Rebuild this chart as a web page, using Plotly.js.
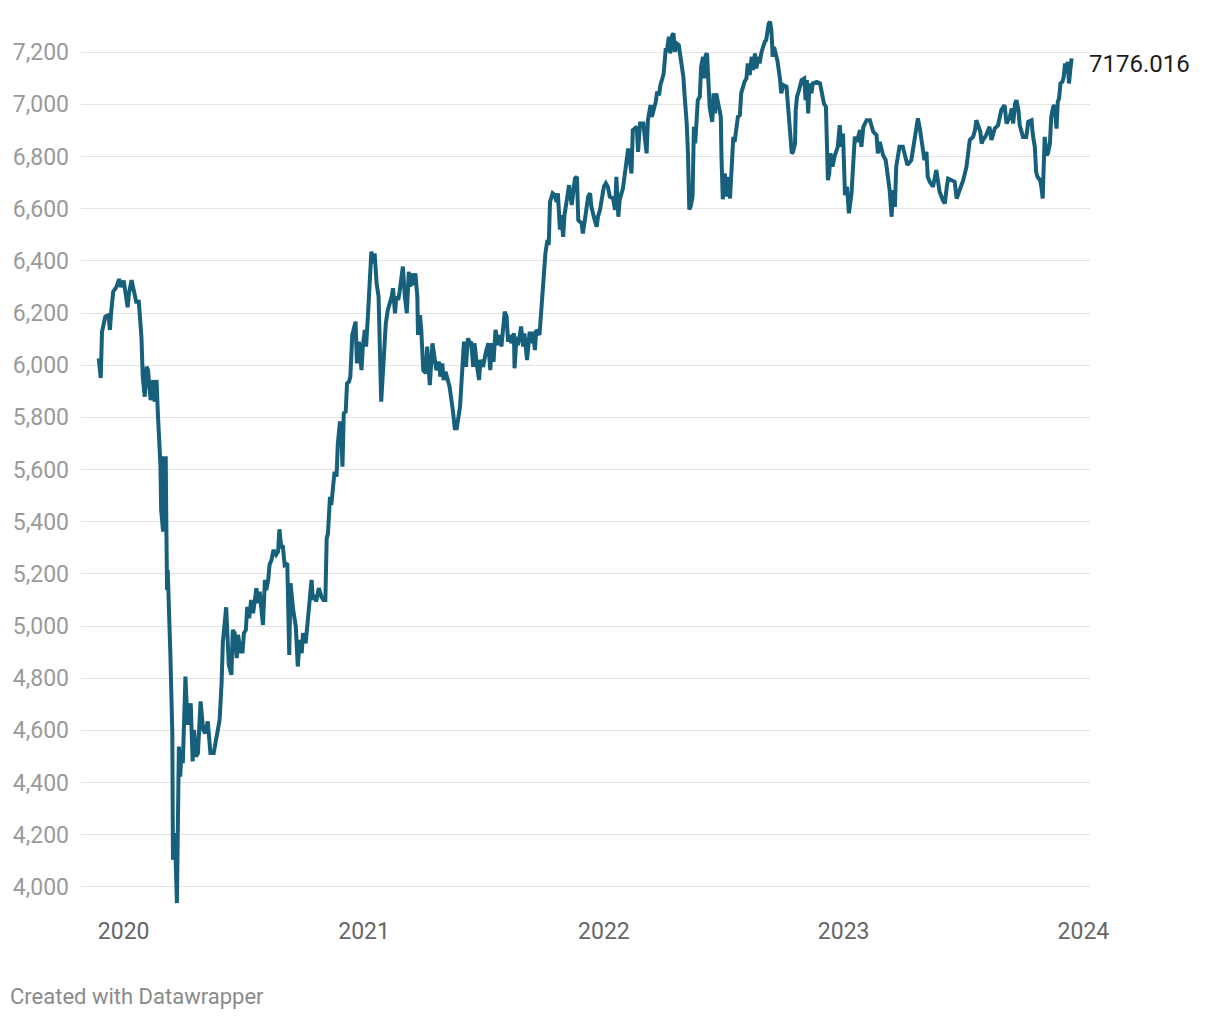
<!DOCTYPE html>
<html>
<head>
<meta charset="utf-8">
<script src="https://cdn.plot.ly/plotly-3.0.1.min.js"></script>
<style>
  html, body { margin: 0; padding: 0; background: #ffffff; }
  #chart { width: 1220px; height: 1020px; }
</style>
</head>
<body>
<div id="chart"></div>
<script>
// ---- Data ----
const dates = [
  "2019-11-24","2019-11-27","2019-11-29","2019-12-04","2019-12-09","2019-12-11","2019-12-13","2019-12-16","2019-12-21","2019-12-25","2019-12-28",
  "2020-01-01","2020-01-07","2020-01-09","2020-01-13","2020-01-18","2020-01-20","2020-01-24","2020-01-28","2020-01-30",
  "2020-02-02","2020-02-05","2020-02-07","2020-02-11","2020-02-15","2020-02-17","2020-02-20","2020-02-22","2020-02-26","2020-02-27",
  "2020-03-01","2020-03-02","2020-03-05","2020-03-06","2020-03-07","2020-03-08","2020-03-12","2020-03-15","2020-03-16","2020-03-19",
  "2020-03-22","2020-03-24","2020-03-25","2020-03-27","2020-03-29","2020-03-31","2020-04-04","2020-04-07","2020-04-09","2020-04-12",
  "2020-04-15","2020-04-17","2020-04-20","2020-04-23","2020-04-27","2020-05-01","2020-05-04","2020-05-08","2020-05-12","2020-05-17",
  "2020-05-22","2020-05-26","2020-05-29","2020-05-31","2020-06-05","2020-06-09","2020-06-13","2020-06-15","2020-06-18","2020-06-21",
  "2020-06-23","2020-06-27","2020-06-30","2020-07-02","2020-07-05","2020-07-07","2020-07-10","2020-07-13","2020-07-16","2020-07-18",
  "2020-07-21","2020-07-24","2020-07-26","2020-07-31","2020-08-03","2020-08-05","2020-08-08","2020-08-10","2020-08-13","2020-08-16",
  "2020-08-20","2020-08-23","2020-08-25","2020-08-28","2020-08-30","2020-09-02","2020-09-06","2020-09-09","2020-09-11","2020-09-15",
  "2020-09-19","2020-09-22","2020-09-25","2020-09-28","2020-09-30","2020-10-04","2020-10-08","2020-10-10","2020-10-13","2020-10-15",
  "2020-10-18","2020-10-20","2020-10-24","2020-10-28","2020-10-31","2020-11-03","2020-11-05","2020-11-07","2020-11-10","2020-11-12",
  "2020-11-17","2020-11-20","2020-11-22","2020-11-25","2020-11-27","2020-11-29","2020-12-01","2020-12-04","2020-12-06","2020-12-09",
  "2020-12-11","2020-12-14","2020-12-19","2020-12-21","2020-12-24","2020-12-28","2020-12-30","2021-01-02","2021-01-04","2021-01-07",
  "2021-01-10","2021-01-12","2021-01-15","2021-01-17","2021-01-20","2021-01-23","2021-01-27","2021-01-31","2021-02-03","2021-02-06",
  "2021-02-12","2021-02-14","2021-02-17","2021-02-19","2021-02-22","2021-02-24","2021-02-27","2021-03-01","2021-03-04","2021-03-07",
  "2021-03-10","2021-03-12","2021-03-15","2021-03-17","2021-03-20","2021-03-23","2021-03-24","2021-03-27","2021-03-29","2021-04-01",
  "2021-04-05","2021-04-07","2021-04-11","2021-04-15","2021-04-18","2021-04-21","2021-04-25","2021-04-27","2021-04-30","2021-05-02",
  "2021-05-05","2021-05-09","2021-05-11","2021-05-16","2021-05-19","2021-05-22","2021-05-27","2021-05-31","2021-06-02","2021-06-05",
  "2021-06-08","2021-06-11","2021-06-13","2021-06-16","2021-06-18","2021-06-22","2021-06-25","2021-06-27","2021-07-01","2021-07-05",
  "2021-07-09","2021-07-12","2021-07-15","2021-07-17","2021-07-20","2021-07-24","2021-07-27","2021-07-29","2021-07-31","2021-08-03",
  "2021-08-06","2021-08-08","2021-08-11","2021-08-13","2021-08-17","2021-08-18","2021-08-21","2021-08-23","2021-08-26","2021-08-28",
  "2021-08-31","2021-09-02","2021-09-06","2021-09-10","2021-09-13","2021-09-15","2021-09-18","2021-09-20","2021-09-25","2021-09-28",
  "2021-09-30","2021-10-02","2021-10-04","2021-10-07","2021-10-09","2021-10-11","2021-10-15","2021-10-18","2021-10-21","2021-10-23",
  "2021-10-26","2021-10-28","2021-10-31","2021-11-02","2021-11-06","2021-11-09","2021-11-13","2021-11-15","2021-11-18","2021-11-21",
  "2021-11-23","2021-11-28","2021-11-30","2021-12-03","2021-12-08","2021-12-11","2021-12-13","2021-12-18","2021-12-21","2021-12-23",
  "2021-12-26","2022-01-01","2022-01-04","2022-01-07","2022-01-10","2022-01-15","2022-01-18","2022-01-20","2022-01-23","2022-01-25",
  "2022-01-30","2022-02-02","2022-02-04","2022-02-07","2022-02-12","2022-02-14","2022-02-20","2022-02-22","2022-02-25","2022-03-02",
  "2022-03-07","2022-03-09","2022-03-13","2022-03-15","2022-03-21","2022-03-23","2022-03-26","2022-03-28","2022-03-31","2022-04-02",
  "2022-04-05","2022-04-07","2022-04-10","2022-04-12","2022-04-15","2022-04-17","2022-04-19","2022-04-22","2022-04-25","2022-04-29",
  "2022-05-02","2022-05-04","2022-05-07","2022-05-09","2022-05-11","2022-05-13","2022-05-16","2022-05-18","2022-05-20","2022-05-24",
  "2022-05-27","2022-05-29","2022-06-01","2022-06-03","2022-06-05","2022-06-07","2022-06-09","2022-06-11","2022-06-15","2022-06-17",
  "2022-06-19","2022-06-21","2022-06-26","2022-06-28","2022-06-29","2022-07-01","2022-07-04","2022-07-07","2022-07-09","2022-07-12",
  "2022-07-17","2022-07-19","2022-07-24","2022-07-27","2022-07-29","2022-08-01","2022-08-03","2022-08-06","2022-08-08","2022-08-11",
  "2022-08-14","2022-08-16","2022-08-19","2022-08-21","2022-08-24","2022-08-26","2022-08-29","2022-09-03","2022-09-05","2022-09-09",
  "2022-09-11","2022-09-13","2022-09-15","2022-09-17","2022-09-22","2022-09-26","2022-09-28","2022-10-01","2022-10-06","2022-10-08",
  "2022-10-11","2022-10-14","2022-10-16","2022-10-19","2022-10-20","2022-10-22","2022-10-25","2022-10-29","2022-11-02","2022-11-04",
  "2022-11-06","2022-11-08","2022-11-10","2022-11-13","2022-11-15","2022-11-21","2022-11-26","2022-11-30","2022-12-02","2022-12-05",
  "2022-12-07","2022-12-08","2022-12-10","2022-12-12","2022-12-15","2022-12-18","2022-12-23","2022-12-26","2022-12-29","2022-12-31",
  "2023-01-03","2023-01-06","2023-01-09","2023-01-13","2023-01-15","2023-01-18","2023-01-21","2023-01-26","2023-01-28","2023-01-31",
  "2023-02-05","2023-02-10","2023-02-15","2023-02-20","2023-02-22","2023-02-25","2023-03-02","2023-03-06","2023-03-12","2023-03-15",
  "2023-03-17","2023-03-20","2023-03-22","2023-03-27","2023-04-01","2023-04-06","2023-04-08","2023-04-14","2023-04-19","2023-04-22",
  "2023-04-24","2023-04-27","2023-04-29","2023-05-02","2023-05-04","2023-05-07","2023-05-09","2023-05-12","2023-05-17","2023-05-22",
  "2023-05-25","2023-05-27","2023-06-01","2023-06-04","2023-06-07","2023-06-09","2023-06-14","2023-06-19","2023-06-22","2023-06-29",
  "2023-07-02","2023-07-07","2023-07-09","2023-07-12","2023-07-17","2023-07-20","2023-07-22","2023-07-26","2023-07-28","2023-07-30",
  "2023-08-01","2023-08-06","2023-08-11","2023-08-14","2023-08-19","2023-08-24","2023-08-27","2023-08-29","2023-09-01","2023-09-03",
  "2023-09-06","2023-09-11","2023-09-14","2023-09-16","2023-09-19","2023-09-21","2023-09-24","2023-09-26","2023-10-01","2023-10-06",
  "2023-10-09","2023-10-14","2023-10-16","2023-10-19","2023-10-21","2023-10-23","2023-10-27","2023-10-29","2023-10-31","2023-11-02",
  "2023-11-03","2023-11-06","2023-11-08","2023-11-11","2023-11-13","2023-11-16","2023-11-18","2023-11-21","2023-11-23","2023-11-25",
  "2023-11-27","2023-11-30","2023-12-02","2023-12-04","2023-12-06","2023-12-08","2023-12-10","2023-12-12","2023-12-14"
];
const values = [
  6026,5951,6128,6186,6192,6135,6205,6282,6300,6330,6300,
  6324,6222,6275,6326,6275,6243,6243,6109,5956,
  5879,5994,5981,5866,5943,5860,5943,5816,5611,5445,
  5362,5643,5643,5368,5138,5215,4896,4589,4104,4206,
  3938,4207,4538,4423,4525,4474,4806,4628,4628,4704,
  4481,4602,4500,4513,4711,4602,4589,4634,4513,4513,
  4576,4640,4781,4940,5072,4851,4813,4985,4973,4877,
  4966,4902,4902,4973,4985,5074,5030,5100,5049,5100,
  5145,5087,5132,5004,5177,5138,5177,5234,5253,5292,
  5273,5285,5371,5298,5311,5234,5241,4889,5164,5062,
  4998,4845,4947,4896,4973,4934,5036,5113,5177,5100,
  5119,5094,5145,5113,5100,5100,5336,5356,5495,5464,
  5592,5573,5700,5777,5777,5611,5815,5822,5930,5937,
  5956,6116,6167,6007,6090,5981,6071,6135,6071,6199,
  6365,6435,6390,6429,6314,6263,5860,6058,6160,6211,
  6263,6295,6199,6263,6250,6282,6339,6378,6263,6199,
  6358,6301,6352,6307,6352,6263,6116,6192,6135,5981,
  5969,6071,5924,6084,6032,5981,6013,5956,6007,5943,
  5975,5930,5918,5828,5758,5758,5841,6007,6090,5994,
  6103,6084,6090,5994,6084,5994,5943,6020,5994,6045,
  6084,5981,6084,6013,6135,6077,6116,6071,6122,6205,
  6186,6090,6116,6084,6122,5988,6109,6077,6116,6148,
  6071,6122,6020,6128,6084,6128,6058,6135,6116,6224,
  6282,6346,6430,6480,6461,6626,6659,6652,6626,6659,
  6520,6575,6492,6575,6630,6690,6614,6646,6716,6722,
  6556,6544,6505,6556,6646,6659,6607,6556,6531,6569,
  6595,6684,6697,6684,6646,6639,6595,6722,6569,6633,
  6678,6735,6786,6831,6735,6901,6914,6818,6926,6926,
  6812,6939,6997,6952,7010,7048,7035,7074,7099,7118,
  7208,7208,7259,7195,7265,7272,7201,7233,7227,7169,
  7105,7029,6930,6812,6597,6607,6646,6914,6850,7016,
  7029,7144,7182,7099,7188,7195,7054,6990,6933,7042,
  6965,7042,6978,6952,6799,6636,6735,6646,6722,6639,
  6875,6856,6952,6959,7042,7080,7086,7099,7157,7112,
  7182,7131,7195,7138,7182,7157,7201,7240,7246,7310,
  7316,7284,7182,7220,7169,7099,7042,7074,7067,7003,
  6926,6812,6818,6850,6978,7029,7054,7093,7099,7016,
  7093,6965,7080,7042,7080,7086,7080,7029,7003,6990,
  6824,6709,6735,6812,6761,6799,6837,6920,6837,6888,
  6652,6684,6582,6659,6748,6876,6856,6901,6837,6914,
  6939,6939,6895,6882,6812,6856,6805,6786,6671,6569,
  6671,6607,6761,6837,6837,6773,6767,6786,6863,6907,
  6946,6907,6876,6837,6786,6818,6722,6703,6684,6748,
  6697,6665,6633,6620,6684,6715,6709,6703,6639,6684,
  6709,6761,6805,6863,6875,6901,6939,6914,6895,6850,
  6863,6882,6914,6863,6907,6920,6952,6978,6990,6997,
  6926,6952,6984,6926,7003,7016,6978,6920,6875,6875,
  6933,6939,6882,6837,6741,6722,6709,6684,6639,6799,
  6875,6805,6812,6850,6952,6990,6997,6907,7010,7023,
  7080,7086,7105,7157,7118,7163,7080,7131,7176.016
];
const yTicks = [4000,4200,4400,4600,4800,5000,5200,5400,5600,5800,6000,6200,6400,6600,6800,7000,7200];
const xTickDates = ["2020-01-01","2021-01-01","2022-01-01","2023-01-01","2024-01-01"];
const xTickLabels = ["2020","2021","2022","2023","2024"];
const creditText = "Created with Datawrapper";

// ---- Chart ----
const lastIdx = values.length - 1;
const trace = {
  x: dates,
  y: values,
  type: "scatter",
  mode: "lines",
  line: { color: "#17607b", width: 4, shape: "linear" },
  hoverinfo: "x+y",
  cliponaxis: false
};

const layout = {
  width: 1220,
  height: 1020,
  margin: { l: 81, r: 130, t: 13, b: 107, pad: 0 },
  paper_bgcolor: "#ffffff",
  plot_bgcolor: "#ffffff",
  showlegend: false,
  font: { family: "Roboto, 'Noto Sans', sans-serif", size: 23, color: "#999999" },
  xaxis: {
    type: "date",
    range: ["2019-10-28", "2024-01-11"],
    tickmode: "array",
    tickvals: xTickDates,
    ticktext: xTickLabels,
    showgrid: false,
    zeroline: false,
    showline: false,
    ticks: "",
    ticklabelstandoff: 2,
    tickfont: { family: "Roboto, sans-serif", size: 23, color: "#666666" },
    fixedrange: true
  },
  yaxis: {
    range: [3900, 7350],
    tickmode: "array",
    tickvals: yTicks,
    tickformat: ",d",
    showgrid: true,
    gridcolor: "#e3e3e3",
    gridwidth: 1,
    zeroline: false,
    showline: false,
    ticks: "",
    ticklabelstandoff: 11,
    tickfont: { family: "Roboto, sans-serif", size: 23, color: "#9a9a9a" },
    fixedrange: true
  },
  annotations: [
    {
      x: dates[lastIdx],
      y: values[lastIdx],
      xref: "x",
      yref: "y",
      text: values[lastIdx].toFixed(3),
      showarrow: false,
      xanchor: "left",
      yanchor: "middle",
      xshift: 15,
      yshift: -6,
      font: { family: "Roboto, sans-serif", size: 24, color: "#1d1d1d" }
    },
    {
      x: 8,
      y: 997,
      xref: "paper",
      yref: "paper",
      text: creditText,
      showarrow: false,
      font: { family: "Roboto, sans-serif", size: 22, color: "#8a8a8a" }
    }
  ]
};
// credit placed in pixel space: convert to paper coords
const plotW = layout.width - layout.margin.l - layout.margin.r;
const plotH = layout.height - layout.margin.t - layout.margin.b;
layout.annotations[1].x = (8 - layout.margin.l) / plotW;
layout.annotations[1].y = (layout.height - layout.margin.b - 997) / plotH;
layout.annotations[1].xanchor = "left";
layout.annotations[1].yanchor = "middle";

Plotly.newPlot("chart", [trace], layout, { displayModeBar: false, staticPlot: true });
</script>
</body>
</html>
